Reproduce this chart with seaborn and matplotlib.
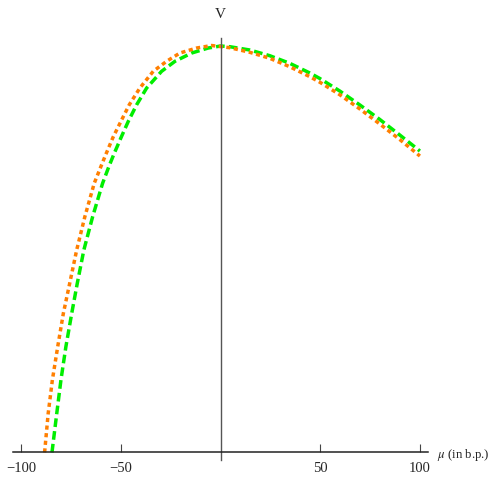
import numpy as np
import pandas as pd
import matplotlib
matplotlib.use('Agg')
import matplotlib.pyplot as plt
import seaborn as sns

# values (mu in b.p., V in arbitrary units)
green_mu = [-84.6, -82.2, -80.1, -77.6, -74.7, -71.9, -68.6, -64.2, -59.2, -56.0,
            -53.5, -49.6, -46.3, -42.1, -37.1, -29.6, -22.9, -14.5, -6.2, 0.0,
            4.7, 14.7, 24.7, 34.7, 44.8, 49.8, 59.8, 69.9, 79.9, 89.9, 100.0]
green_v = [0.0, 0.39, 0.725, 1.06, 1.39, 1.692, 2.025, 2.358, 2.692, 2.862,
           2.985, 3.165, 3.312, 3.478, 3.645, 3.812, 3.912, 3.995, 4.045, 4.065,
           4.058, 4.025, 3.968, 3.892, 3.795, 3.74, 3.615, 3.475, 3.33, 3.175, 3.015]

orange_mu = [-88.3, -86.5, -84.4, -81.7, -78.9, -75.7, -72.2, -68.1, -63.4, -60.0,
             -57.7, -53.9, -50.0, -45.8, -40.5, -33.8, -27.1, -20.4, -12.0, -4.5,
             4.7, 14.7, 24.7, 34.7, 44.8, 49.8, 59.8, 69.9, 79.9, 89.9, 100.0]
orange_v = [0.0, 0.39, 0.725, 1.06, 1.39, 1.692, 2.025, 2.358, 2.692, 2.862,
            2.975, 3.155, 3.312, 3.478, 3.645, 3.812, 3.912, 3.995, 4.045, 4.07,
            4.048, 4.002, 3.942, 3.858, 3.758, 3.703, 3.578, 3.435, 3.285, 3.13, 2.965]

xticks = [-100, -50, 50, 100]
xticklabels = ['\u2212100', '\u221250', '50', '100']

sns.set_style('white')
plt.rcParams['font.family'] = ['Liberation Serif', 'DejaVu Serif']
plt.rcParams['mathtext.fontset'] = 'stix'

fig = plt.figure(figsize=(4.89, 4.79), dpi=100)
ax = fig.add_axes([0.0272, 0.0397, 0.8478, 0.8803])

sns.lineplot(x=green_mu, y=green_v, color='#00ee00', lw=2.5,
             linestyle=(0, (2.5, 1.2)), ax=ax)
sns.lineplot(x=orange_mu, y=orange_v, color='#ff7f00', lw=2.5,
             linestyle=(0, (1.2, 1.0)), ax=ax)

ax.set_xlim(-104, 104)
ax.set_ylim(-0.075, 4.142)

for s in ['top', 'right']:
    ax.spines[s].set_visible(False)
ax.spines['bottom'].set_position(('data', 0))
ax.spines['left'].set_position(('data', 0))
ax.spines['bottom'].set_color('#222222')
ax.spines['left'].set_color('#555555')
ax.spines['bottom'].set_linewidth(1.1)
ax.spines['left'].set_linewidth(1.0)

ax.set_xticks(xticks)
ax.set_xticklabels(xticklabels)
ax.set_yticks([])
ax.tick_params(axis='x', direction='in', length=6, width=0.8, color='#444444',
               labelsize=10.5, pad=7, bottom=True)

fig.text(437 / 489, 1 - 455 / 479, '$\\mu$ (in b.p.)',
         fontsize=9.2, ha='left', va='center')
fig.text(220.7 / 489, 1 - 14 / 479, 'V', fontsize=11, ha='center', va='center')

fig.savefig('out.png', dpi=100)
